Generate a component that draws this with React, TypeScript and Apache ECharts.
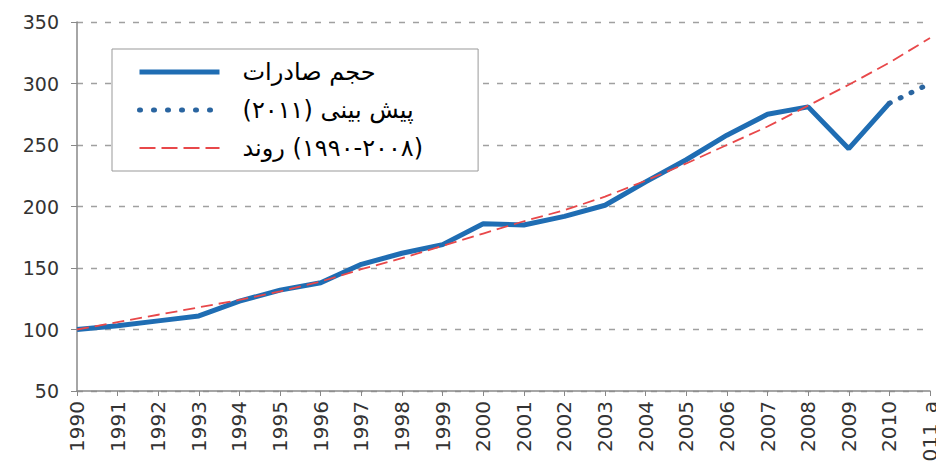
import React, { useEffect, useRef } from "react";
import * as echarts from "echarts";

const years = ["1990","1991","1992","1993","1994","1995","1996","1997","1998","1999","2000","2001","2002","2003","2004","2005","2006","2007","2008","2009","2010","2011_a"];
const exportVolume = [100, 103, 107, 111, 123, 132, 138, 153, 162, 169, 186, 185, 192, 201, 220, 238, 258, 275, 281, 247, 284, null];
const forecast2011 = [null, null, null, null, null, null, null, null, null, null, null, null, null, null, null, null, null, null, null, null, 284, 300];
const trend = [100, 106, 112, 118, 124, 131, 139, 149, 158, 168, 178, 188, 197, 208, 221, 235, 250, 265, 282, 299, 317, 337];
const seriesNames = ["حجم صادرات", "پیش بینی (۲۰۱۱)", "روند (\u200E۱۹۹۰-۲۰۰۸\u200E)"];

export default function App() {
  const ref = useRef<HTMLDivElement>(null);
  useEffect(() => {
    if (!ref.current) return;
    const chart = echarts.init(ref.current, null, { renderer: "svg" });
    const axisFont = "'DejaVu Sans', Verdana, sans-serif";
    const blue = "#1f6db3";
    const dotBlue = "#2a65a0";
    const red = "#e8484a";
    chart.setOption({
      animation: false,
      backgroundColor: "#ffffff",
      grid: { left: 77, right: 6, top: 22, bottom: 72, containLabel: false, outerBoundsMode: "none" },
      legend: {
        orient: "vertical",
        left: 112,
        top: 49,
        itemWidth: 80,
        itemHeight: 14,
        itemGap: 14,
        padding: [11, 55, 11, 25],
        backgroundColor: "#ffffff",
        borderColor: "#999999",
        borderWidth: 1,
        itemStyle: { opacity: 0 },
        textStyle: { fontSize: 24, fontFamily: "'DejaVu Sans', Tahoma, sans-serif", color: "#000", padding: [0, 0, 0, 18] },
        data: [
          { name: seriesNames[0], lineStyle: { color: blue, width: 5, type: "solid" } },
          { name: seriesNames[1], lineStyle: { color: dotBlue, width: 5, type: [1, 13], cap: "round" } },
          { name: seriesNames[2], lineStyle: { color: red, width: 2, type: [16, 6] } },
        ],
      },
      xAxis: {
        type: "category",
        data: years,
        boundaryGap: false,
        axisLine: { lineStyle: { color: "#888888", width: 1.5 } },
        axisTick: { show: true, length: 5, lineStyle: { color: "#888888" } },
        axisLabel: { rotate: 90, interval: 0, fontSize: 20, fontFamily: axisFont, color: "#333333", margin: 10 },
        splitLine: { show: false },
      },
      yAxis: {
        type: "value",
        min: 50,
        max: 350,
        interval: 50,
        axisLine: { show: true, lineStyle: { color: "#888888", width: 1.5 } },
        axisTick: { show: true, length: 6, lineStyle: { color: "#888888" } },
        axisLabel: { fontSize: 19, fontFamily: axisFont, color: "#333333", margin: 18 },
        splitLine: { show: true, lineStyle: { color: "#a0a0a0", width: 1.3, type: [6, 8] } },
      },
      series: [
        {
          name: seriesNames[0],
          type: "line",
          data: exportVolume,
          symbol: "none",
          lineStyle: { color: blue, width: 5 },
          itemStyle: { color: blue },
          z: 2,
        },
        {
          name: seriesNames[1],
          type: "line",
          data: forecast2011,
          symbol: "none",
          lineStyle: { color: dotBlue, width: 5, type: [1, 11], cap: "round" },
          itemStyle: { color: dotBlue },
          z: 2,
        },
        {
          name: seriesNames[2],
          type: "line",
          data: trend,
          symbol: "none",
          lineStyle: { color: red, width: 1.8, type: [12, 6] },
          itemStyle: { color: red },
          z: 3,
        },
      ],
    });
    return () => chart.dispose();
  }, []);
  return <div ref={ref} style={{ position: "fixed", left: 0, top: 0, width: 936, height: 463 }} />;
}
